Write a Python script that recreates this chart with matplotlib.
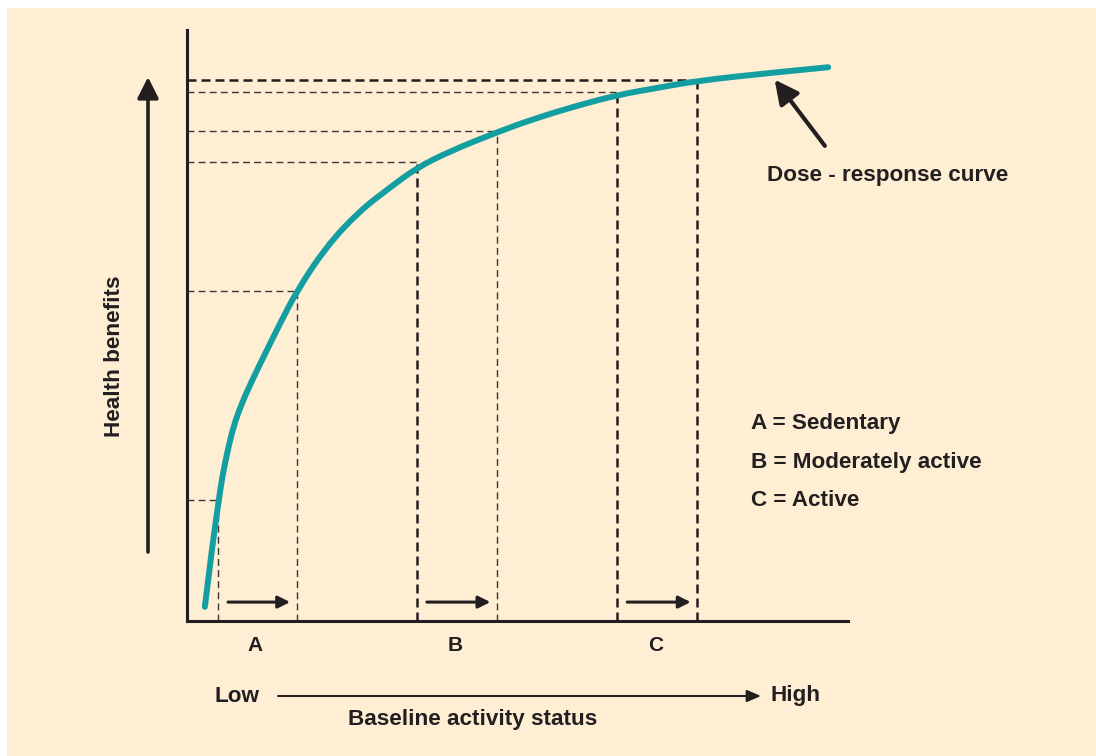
import numpy as np
import matplotlib.pyplot as plt
from matplotlib.patches import Rectangle, FancyArrowPatch, PathPatch
from matplotlib.path import Path

plt.rcParams['font.family'] = ['Liberation Sans', 'DejaVu Sans']
plt.rcParams['font.weight'] = 'bold'

# dose-response curve (activity 0-100, benefit 0-100)
curve_x = [2.7, 3.3, 3.9, 4.7, 5.3, 6.1, 7.0, 8.2, 9.8, 11.8, 14.1, 16.6, 20.9,
           25.9, 31.0, 34.8, 39.8, 46.9, 52.3, 58.7, 65.1, 71.1, 77.2, 87.8, 97.0]
curve_y = [2.4, 7.8, 13.2, 19.6, 24.2, 28.6, 32.8, 36.6, 40.6, 45.2, 50.4, 55.8, 63.1,
           69.2, 73.6, 76.7, 79.5, 82.7, 84.9, 87.1, 89.0, 90.2, 91.4, 92.7, 93.7]

# groups: start / end of the activity step and benefit level at each
groups = ["A", "B", "C"]
x_start = [4.7, 34.8, 65.1]
x_end = [16.6, 46.9, 77.2]
y_start = [20.5, 77.7, 89.5]
y_end = [55.8, 82.9, 91.5]
# guide line weights: (vertical, horizontal)
w_start = [("thin", "thin"), ("thick", "thin"), ("thick", "thin")]
w_end = [("thin", "thin"), ("thin", "thin"), ("thick", "thick")]

legend_lines = ["A = Sedentary", "B = Moderately active", "C = Active"]

ink = "#231F20"
teal = "#139EA2"
cream = "#FEEED4"
W, H = 1096, 756
fs = 16.2

styles = {
    "thin": dict(lw=1.0, ls=(0, (5.0, 3.0)), color="#3a3536"),
    "thick": dict(lw=1.8, ls=(0, (3.6, 2.0)), color=ink),
}


def fx(px):
    return px / W


def fy(py):
    return 1 - py / H


def smooth_path(xs, ys):
    # quadratic segments through midpoints, so the read points give a smooth stroke
    pts = list(zip(xs, ys))
    verts = [pts[0]]
    codes = [Path.MOVETO]
    for i in range(1, len(pts) - 1):
        mid = ((pts[i][0] + pts[i + 1][0]) / 2, (pts[i][1] + pts[i + 1][1]) / 2)
        if i == len(pts) - 2:
            mid = pts[-1]
        verts += [pts[i], mid]
        codes += [Path.CURVE3, Path.CURVE3]
    return Path(verts, codes)


fig = plt.figure(figsize=(W / 100, H / 100), dpi=100)
fig.patch.set_facecolor("white")
fig.patches.append(Rectangle((fx(7), 0), 1 - fx(7), fy(8), transform=fig.transFigure,
                             facecolor=cream, edgecolor="none", zorder=-5))

ax = fig.add_axes([fx(187), fy(621), fx(848) - fx(187), fy(30) - fy(621)])
ax.set_zorder(1)
ax.set_facecolor("none")
ax.set_xlim(0, 100)
ax.set_ylim(0, 100)
for s in ["top", "right"]:
    ax.spines[s].set_visible(False)
for s in ["left", "bottom"]:
    ax.spines[s].set_linewidth(2.2)
    ax.spines[s].set_color(ink)
ax.set_xticks([])
ax.set_yticks([])

# guide lines
for xs, xe, ys, ye, ws, we in zip(x_start, x_end, y_start, y_end, w_start, w_end):
    for xv, yv, (wv, wh) in [(xs, ys, ws), (xe, ye, we)]:
        ax.plot([xv, xv], [0, yv], **styles[wv], zorder=2)
        ax.plot([0, xv], [yv, yv], **styles[wh], zorder=2)

ax.add_patch(PathPatch(smooth_path(curve_x, curve_y), facecolor="none",
                       edgecolor=teal, lw=4.3, capstyle="round",
                       joinstyle="round", zorder=3))

# small arrows and group labels
for g, xs, xe in zip(groups, x_start, x_end):
    ax.annotate("", xy=(xe - 1.0, 3.2), xytext=(xs + 1.5, 3.2),
                arrowprops=dict(arrowstyle="-|>,head_length=0.6,head_width=0.3",
                                mutation_scale=12, lw=2.2, color=ink,
                                shrinkA=0, shrinkB=0))
    ax.text((xs + xe) / 2 - 0.3, -4.1, g, ha="center", va="center",
            fontsize=15, fontweight="bold", color=ink, clip_on=False)

# dose-response pointer
ax.annotate("", xy=(88.9, 91.6), xytext=(96.5, 80.4),
            arrowprops=dict(arrowstyle="-|>,head_length=0.8,head_width=0.4",
                            mutation_scale=18, lw=3.0, color=ink,
                            shrinkA=0, shrinkB=0), annotation_clip=False)
fig.text(fx(767), fy(175), "Dose - response curve", ha="left", va="center",
         fontsize=fs, fontweight="bold", color=ink)

for i, t in enumerate(legend_lines):
    fig.text(fx(751), fy(424 + 38 * i), t, ha="left", va="center",
             fontsize=fs, fontweight="bold", color=ink)

# y-axis arrow and label
fig.add_artist(FancyArrowPatch(
    (fx(148), fy(552)), (fx(148), fy(77)), transform=fig.transFigure,
    arrowstyle="-|>,head_length=0.8,head_width=0.4", mutation_scale=16,
    lw=2.6, color=ink, shrinkA=0, shrinkB=0))
fig.text(fx(114), fy(356), "Health benefits", rotation=90, ha="center", va="center",
         fontsize=fs, fontweight="bold", color=ink)

# x-axis arrow and labels
fig.add_artist(FancyArrowPatch(
    (fx(278), fy(696)), (fx(761), fy(696)), transform=fig.transFigure,
    arrowstyle="-|>,head_length=0.7,head_width=0.3", mutation_scale=12,
    lw=1.5, color=ink, shrinkA=0, shrinkB=0))
fig.text(fx(237), fy(696), "Low", ha="center", va="center",
         fontsize=fs, fontweight="bold", color=ink)
fig.text(fx(796), fy(696), "High", ha="center", va="center",
         fontsize=fs, fontweight="bold", color=ink)
fig.text(fx(473), fy(720), "Baseline activity status", ha="center", va="center",
         fontsize=fs, fontweight="bold", color=ink)

fig.savefig("out.png", dpi=100, facecolor=fig.get_facecolor())
